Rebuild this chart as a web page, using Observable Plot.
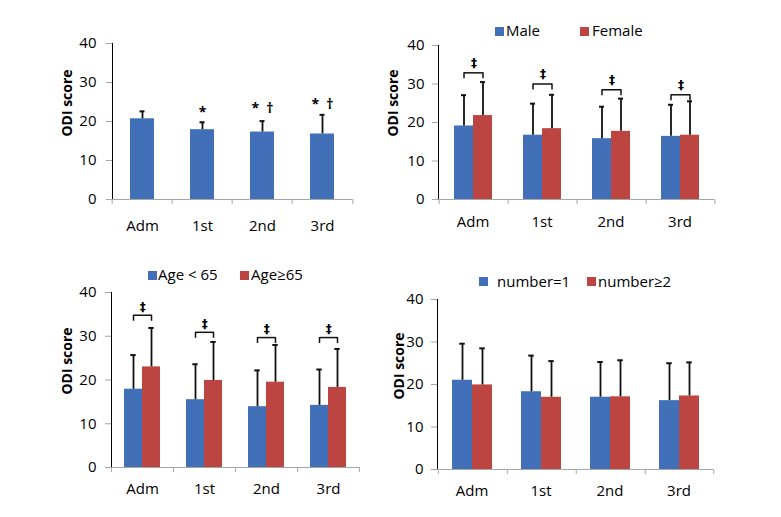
<!DOCTYPE html>
<html>
<head>
<meta charset="utf-8">
<script src="https://cdn.jsdelivr.net/npm/d3@7"></script>
<script src="https://cdn.jsdelivr.net/npm/@observablehq/plot@0.6"></script>
<style>
  body { margin: 0; background: #fff; font-family: "Open Sans", sans-serif; }
  #root { position: relative; width: 781px; height: 517px; overflow: hidden; background: #fff; }
  .panel { position: absolute; }
  .ylab { position: absolute; font-weight: bold; font-size: 14px; color: #000;
          transform: translate(-50%, -50%) rotate(-90deg); white-space: nowrap; }
  .lg-sw { position: absolute; width: 9px; height: 9px; }
  .lg-tx { position: absolute; font-size: 15px; line-height: 18px; color: #000; white-space: nowrap; }
  svg g[aria-label^="y-axis"] line, svg g[aria-label^="y-axis"] path { stroke: #a6a6a6; }
</style>
</head>
<body>
<div id="root"></div>
<script>
// ---------------- data ----------------
const categories = ["Adm", "1st", "2nd", "3rd"];
const yTicks = [0, 10, 20, 30, 40];

// Panel A: all patients
const overallSeries = ["All"];
const overallMean = [20.7, 17.9, 17.3, 16.8];
const overallSD = [1.9, 1.9, 2.8, 4.9];
const overallNote = ["", "*", "*\u2002\u2020", "*\u2002\u2020"];
const overallNoteY = [null, 22.3, 23.3, 24.4];

// Panel B: sex
const sexSeries = ["Male", "Female"];
const maleMean = [19.1, 16.7, 15.8, 16.4];
const maleSD = [8.0, 8.2, 8.3, 8.2];
const femaleMean = [21.8, 18.4, 17.7, 16.7];
const femaleSD = [8.7, 8.8, 8.5, 8.8];
const sexBracket = [32.9, 30.0, 28.5, 27.2];

// Panel C: age
const ageSeries = ["Age < 65", "Age\u226565"];
const youngMean = [17.9, 15.5, 13.9, 14.2];
const youngSD = [7.8, 8.1, 8.3, 8.2];
const oldMean = [23.0, 19.9, 19.5, 18.3];
const oldSD = [8.9, 8.8, 8.5, 8.8];
const ageBracket = [34.8, 30.9, 29.7, 29.7];

// Panel D: number
const numSeries = ["number=1", "number\u22652"];
const oneMean = [21.0, 18.3, 17.0, 16.2];
const oneSD = [8.6, 8.5, 8.3, 8.8];
const twoMean = [19.9, 17.0, 17.1, 17.3];
const twoSD = [8.6, 8.5, 8.6, 7.9];

const bracketMark = "\u2021";
const yTitle = "ODI score";

// ---------------- styles ----------------
const BLUE = "#4170B8";
const RED = "#BC4542";
const AXIS = "#a6a6a6";
const ERR = "#111";

const root = document.getElementById("root");

function makePanel(cfg) {
  const {series, colors, means, sds, left, top, width, height, ml, mr, mt, mb,
         barW, tickPad, xPad, brackets, bracketDy, notes, noteY} = cfg;
  const n = series.length;
  const plotW = width - ml - mr;
  const band = plotW / categories.length;
  const padOuter = (band / barW - n) / 2;
  const pxPerUnit = (height - mt - mb) / 40;
  const capW = 6;

  const rows = categories.flatMap((c, i) =>
    series.map((s, k) => ({cat: c, series: s, mean: means[k][i], top: means[k][i] + sds[k][i]})));

  const marks = [
    Plot.ruleY([0], {stroke: AXIS, strokeWidth: 1}),
    Plot.ruleX(categories, {fx: d => d, x: () => series[0], y1: 0, y2: 0,
      dx: -(padOuter + 0.5) * barW, insetBottom: -5, stroke: AXIS}),
    Plot.ruleX([categories[categories.length - 1]], {fx: d => d, x: () => series[n - 1], y1: 0, y2: 0,
      dx: (padOuter + 0.5) * barW, insetBottom: -5, stroke: AXIS}),
    Plot.barY(rows, {fx: "cat", x: "series", y: "mean", fill: "series"}),
    Plot.ruleX(rows, {fx: "cat", x: "series", y1: "mean", y2: "top", stroke: ERR, strokeWidth: 1.8}),
    Plot.tickY(rows, {fx: "cat", x: "series", y: "top", stroke: ERR, strokeWidth: 2,
      insetLeft: (barW - capW) / 2, insetRight: (barW - capW) / 2})
  ];

  if (brackets) {
    const bRows = categories.map((c, i) => ({cat: c, b: brackets[i]}));
    const ends = bRows.flatMap(r => series.map(s => ({cat: r.cat, series: s, b: r.b})));
    const drop = 6 / pxPerUnit;
    marks.push(
      Plot.link(bRows, {fx: "cat", x1: () => series[0], x2: () => series[1], y1: "b", y2: "b",
        stroke: ERR, strokeWidth: 1.5}),
      Plot.ruleX(ends, {fx: "cat", x: "series", y1: d => d.b - drop, y2: "b", stroke: ERR, strokeWidth: 1.5}),
      Plot.text(bRows, {fx: "cat", x: () => series[0], dx: barW / 2, y: "b", dy: bracketDy,
        text: () => bracketMark, fontSize: 12, fontWeight: "bold", fill: "#000", fontFamily: "DejaVu Sans"})
    );
  }
  if (notes) {
    const nRows = categories.map((c, i) => ({cat: c, series: series[0], note: notes[i], y: noteY[i]}))
      .filter(d => d.note);
    marks.push(Plot.text(nRows, {fx: "cat", x: "series", y: "y", text: "note",
      fontSize: 14, fontWeight: "bold", fill: "#000"}));
  }

  const svg = Plot.plot({
    width, height,
    marginLeft: ml, marginRight: mr, marginTop: mt, marginBottom: mb,
    style: {fontFamily: "'Open Sans', sans-serif", fontSize: "15px", color: "#000", background: "transparent", overflow: "visible"},
    fx: {domain: categories, padding: 0, axis: "bottom", tickSize: 0, tickPadding: xPad, label: null},
    x: {domain: series, paddingInner: 0, paddingOuter: padOuter, axis: null},
    y: {domain: [0, 40], ticks: yTicks, tickSize: 6, tickPadding: tickPad, line: true, label: null},
    color: {domain: series, range: colors},
    marks
  });
  const holder = document.createElement("div");
  holder.className = "panel";
  holder.style.left = left + "px";
  holder.style.top = top + "px";
  holder.appendChild(svg);
  root.appendChild(holder);
}

function yLabel(x, y) {
  const d = document.createElement("div");
  d.className = "ylab";
  d.style.left = x + "px";
  d.style.top = y + "px";
  d.textContent = yTitle;
  root.appendChild(d);
}

function legendItem(x, y, color, textX, label) {
  const s = document.createElement("div");
  s.className = "lg-sw";
  s.style.left = x + "px";
  s.style.top = (y - 4.5) + "px";
  s.style.background = color;
  root.appendChild(s);
  const t = document.createElement("div");
  t.className = "lg-tx";
  t.style.left = textX + "px";
  t.style.top = (y - 10) + "px";
  t.textContent = label;
  root.appendChild(t);
}

makePanel({series: overallSeries, colors: [BLUE], means: [overallMean], sds: [overallSD],
  left: 0, top: 0, width: 390, height: 260, ml: 110, mr: 37, mt: 43, mb: 61, barW: 25, tickPad: 10, xPad: 21,
  notes: overallNote, noteY: overallNoteY});
makePanel({series: sexSeries, colors: [BLUE, RED], means: [maleMean, femaleMean], sds: [maleSD, femaleSD],
  left: 390, top: 0, width: 391, height: 260, ml: 46, mr: 66, mt: 45, mb: 61, barW: 20, tickPad: 8, xPad: 17,
  brackets: sexBracket, bracketDy: -10});
makePanel({series: ageSeries, colors: [BLUE, RED], means: [youngMean, oldMean], sds: [youngSD, oldSD],
  left: 0, top: 260, width: 390, height: 257, ml: 110, mr: 30, mt: 32, mb: 50, barW: 18.6, tickPad: 9, xPad: 16,
  brackets: ageBracket, bracketDy: -8});
makePanel({series: numSeries, colors: [BLUE, RED], means: [oneMean, twoMean], sds: [oneSD, twoSD],
  left: 390, top: 260, width: 391, height: 257, ml: 47, mr: 68, mt: 39, mb: 48, barW: 20.5, tickPad: 8, xPad: 16});

yLabel(66, 103);
yLabel(392, 103);
yLabel(66, 361);
yLabel(398, 366);

legendItem(495, 31, BLUE, 506, sexSeries[0]);
legendItem(580, 31, RED, 592, sexSeries[1]);
legendItem(148, 275, BLUE, 158, ageSeries[0]);
legendItem(240, 275, RED, 251, ageSeries[1]);
legendItem(479, 281.5, BLUE, 497, numSeries[0]);
legendItem(587, 281.5, RED, 598, numSeries[1]);
</script>
</body>
</html>
